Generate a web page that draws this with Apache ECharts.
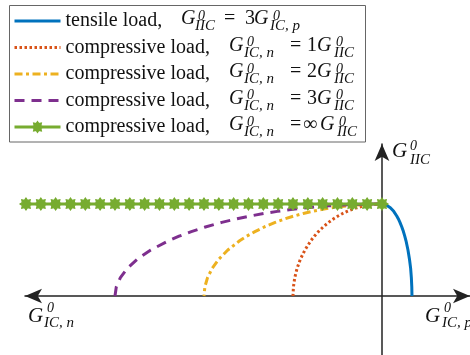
<!DOCTYPE html>
<html><head><meta charset="utf-8">
<script src="https://cdn.jsdelivr.net/npm/echarts@6/dist/echarts.min.js"></script>
<style>html,body{margin:0;padding:0;background:#fff}#c{width:470px;height:355px}</style>
</head><body><div id="c"></div>
<script>
// G_II / G_IIC values shared by the four curves
const curveY = [1, 0.998, 0.99, 0.98, 0.96, 0.94, 0.92, 0.9, 0.87, 0.84, 0.8, 0.75, 0.7, 0.65, 0.6, 0.5, 0.4, 0.3, 0.2, 0.1, 0];
const tensileX = [0, 0.021, 0.048, 0.067, 0.094, 0.115, 0.132, 0.147, 0.166, 0.183, 0.202, 0.223, 0.241, 0.256, 0.270, 0.292, 0.309, 0.322, 0.330, 0.335, 0.337];
const comp1X = [0, -0.063, -0.141, -0.199, -0.28, -0.341, -0.392, -0.436, -0.493, -0.543, -0.6, -0.661, -0.714, -0.76, -0.8, -0.866, -0.917, -0.954, -0.98, -0.995, -1];
const comp2X = [0, -0.126, -0.282, -0.398, -0.56, -0.682, -0.784, -0.872, -0.986, -1.085, -1.2, -1.323, -1.428, -1.52, -1.6, -1.732, -1.833, -1.908, -1.96, -1.99, -2];
const comp3X = [0, -0.19, -0.423, -0.597, -0.84, -1.024, -1.176, -1.308, -1.479, -1.628, -1.8, -1.984, -2.142, -2.28, -2.4, -2.598, -2.75, -2.862, -2.939, -2.985, -3];
const compInfX = [-4, -3.833, -3.667, -3.5, -3.333, -3.167, -3, -2.833, -2.667, -2.5, -2.333, -2.167, -2, -1.833, -1.667, -1.5, -1.333, -1.167, -1, -0.833, -0.667, -0.5, -0.333, -0.167, 0];
const compInfY = [1, 1, 1, 1, 1, 1, 1, 1, 1, 1, 1, 1, 1, 1, 1, 1, 1, 1, 1, 1, 1, 1, 1, 1, 1];
const seriesNames = ['tensile load,', 'compressive load, (1)', 'compressive load, (2)', 'compressive load, (3)', 'compressive load, (inf)'];
const legendText = ['tensile load,', 'compressive load,', 'compressive load,', 'compressive load,', 'compressive load,'];
const ratioText = ['3', '1', '2', '3', '\u221E'];

const zip = (xs, ys) => xs.map((x, i) => [x, ys[i]]);
const SERIF = 'Liberation Serif';
const colors = ['#0072BD', '#D95319', '#EDB120', '#7E2F8E', '#77AC30'];
const star = 'path://M100 0L62 26L71 71L26 62L0 100L-26 62L-71 71L-62 26L-100 0L-62 -26L-71 -71L-26 -62L0 -100L26 -62L71 -71L62 -26Z';

function t(str, x, base, size, italic) {
  return { type: 'text', z: 100, style: { text: str, x: x, y: base - 0.33 * size,
    font: (italic ? 'italic ' : '') + size + 'px "' + SERIF + '"', fill: '#111', verticalAlign: 'middle', align: 'left' } };
}
const g = [];
g.push({ type: 'rect', z: 90, shape: { x: 9.5, y: 5.5, width: 356, height: 136.5 },
  style: { fill: 'none', stroke: '#666', lineWidth: 1 } });
const B = [25.5, 52, 78.5, 105, 131.5];
const M = 20, S = 15;
// row 1
g.push(t('G', 181, B[0], M, true), t('0', 198, B[0] - 5, S - 1, true), t('IIC', 195, B[0] + 5.7, S, true),
       t('=', 224, B[0], M, false), t(ratioText[0], 245, B[0], M, false),
       t('G', 254, B[0], M, true), t('0', 273, B[0] - 5, S - 1, true), t('IC, p', 270, B[0] + 5.7, S, true));
for (let i = 1; i < 5; i++) {
  const b = B[i];
  const inf = i === 4;
  g.push(t('G', 229, b, M, true), t('0', 247, b - 5, S - 1, true), t('IC, n', 244, b + 5.7, S, true),
         t('=', 290, b, M, false), t(ratioText[i], inf ? 303 : 307, b, M, false),
         t('G', inf ? 320 : 317, b, M, true), t('0', inf ? 339 : 336, b - 5, S - 1, true),
         t('IIC', inf ? 337 : 334, b + 5.7, S, true));
}
// axis titles
g.push(t('G', 392, 158, 21, true), t('0', 410, 151, 14, true), t('IIC', 410, 165, 15, true));
g.push(t('G', 28, 323, 21, true), t('0', 47, 313, 14, true), t('IC, n', 44, 328, 15, true));
g.push(t('G', 425, 323, 21, true), t('0', 444, 313, 14, true), t('IC, p', 442, 328, 15, true));

const chart = echarts.init(document.getElementById('c'), null, { renderer: 'canvas' });
const lineBase = { type: 'line', symbol: 'none', showSymbol: false, animation: false, clip: false };
chart.setOption({
  animation: false,
  grid: { left: 25, right: 0, top: 144, bottom: 0, containLabel: false },
  xAxis: { type: 'value', min: -4.011, max: 0.989, splitLine: { show: false }, axisTick: { show: false }, axisLabel: { show: false },
    axisLine: { onZero: true, symbol: ['arrow', 'arrow'], symbolSize: [11, 17], lineStyle: { color: '#222', width: 1.5 } } },
  yAxis: { type: 'value', min: -0.641, max: 1.652, splitLine: { show: false }, axisTick: { show: false }, axisLabel: { show: false },
    axisLine: { onZero: true, symbol: ['none', 'arrow'], symbolSize: [11, 17], lineStyle: { color: '#222', width: 1.5 } } },
  legend: { show: true, orient: 'vertical', left: 13, top: 10, padding: 0, itemGap: 4.5, itemWidth: 46, itemHeight: 12,
    lineStyle: { width: 3 },
    data: seriesNames.map((n, i) => i < 4 ? { name: n, itemStyle: { opacity: 0 } } : { name: n }),
    formatter: (n) => legendText[seriesNames.indexOf(n)],
    textStyle: { fontFamily: SERIF, fontSize: 20, color: '#111', lineHeight: 22 } },
  series: [
    Object.assign({}, lineBase, { name: seriesNames[0], data: zip(tensileX, curveY), lineStyle: { color: colors[0], width: 3 }, itemStyle: { color: colors[0] } }),
    Object.assign({}, lineBase, { name: seriesNames[1], data: zip(comp1X, curveY), lineStyle: { color: colors[1], width: 3, type: [2.5, 2.5] }, itemStyle: { color: colors[1] } }),
    Object.assign({}, lineBase, { name: seriesNames[2], data: zip(comp2X, curveY), lineStyle: { color: colors[2], width: 3, type: [8, 3.5, 3, 3.5] }, itemStyle: { color: colors[2] } }),
    Object.assign({}, lineBase, { name: seriesNames[3], data: zip(comp3X, curveY), lineStyle: { color: colors[3], width: 3, type: [10, 7] }, itemStyle: { color: colors[3] } }),
    { type: 'line', name: seriesNames[4], animation: false, clip: false, z: 5, data: zip(compInfX, compInfY), symbol: star, symbolSize: 12, showSymbol: true,
      lineStyle: { color: colors[4], width: 3 }, itemStyle: { color: colors[4], borderColor: colors[4], borderWidth: 1.2 } }
  ],
  graphic: g
});
</script></body></html>
